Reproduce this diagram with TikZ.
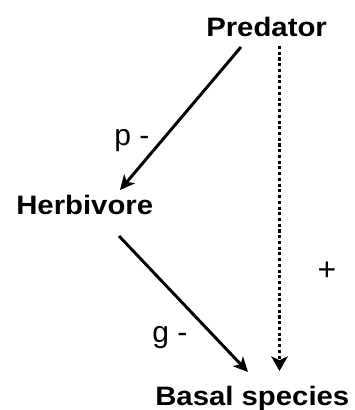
\documentclass[tikz,border=0pt]{standalone}
\usepackage{fontspec}
\setmainfont{Liberation Sans}
\usetikzlibrary{arrows.meta}
\begin{document}
\begin{tikzpicture}[x=0.75pt,y=-0.75pt,
  lab/.style={font=\bfseries\fontsize{20}{21}\selectfont, inner sep=0, anchor=base west},
  sgn/.style={font=\fontsize{22.5}{23}\selectfont, inner sep=0, anchor=base west},
  link/.style={line width=2.2pt, -{Stealth[length=11pt,width=10.5pt,inset=3pt]}},
  dotlink/.style={line width=2.5pt, dash pattern=on 2.3pt off 2pt, -{Stealth[length=11pt,width=12.5pt,inset=3pt]}}]
\useasboundingbox (0,0) rectangle (354,410);
\node[lab] (pred) at (206,36.7) {\scalebox{1.1}[1]{Predator}};
\node[lab] (herb) at (16,214) {\scalebox{1.1}[1]{Herbivore}};
\node[lab] (basal) at (155,405) {\scalebox{1.1}[1]{Basal species}};
\node[sgn] (p) at (114,145) {p -};
\node[sgn] (g) at (152,342) {g -};
\node[sgn, anchor=center, font=\fontsize{24}{25}\selectfont] (plus) at (327,271) {+};
\coordinate (pS) at (241,47);
\coordinate (hT) at (120,190);
\coordinate (hS) at (119,236);
\coordinate (bT) at (248,372);
\coordinate (pD) at (279.5,46);
\coordinate (bD) at (279.5,371);
\draw[link] (pS) -- (hT);
\draw[link] (hS) -- (bT);
\draw[dotlink] (pD) -- (bD);
\end{tikzpicture}
\end{document}
